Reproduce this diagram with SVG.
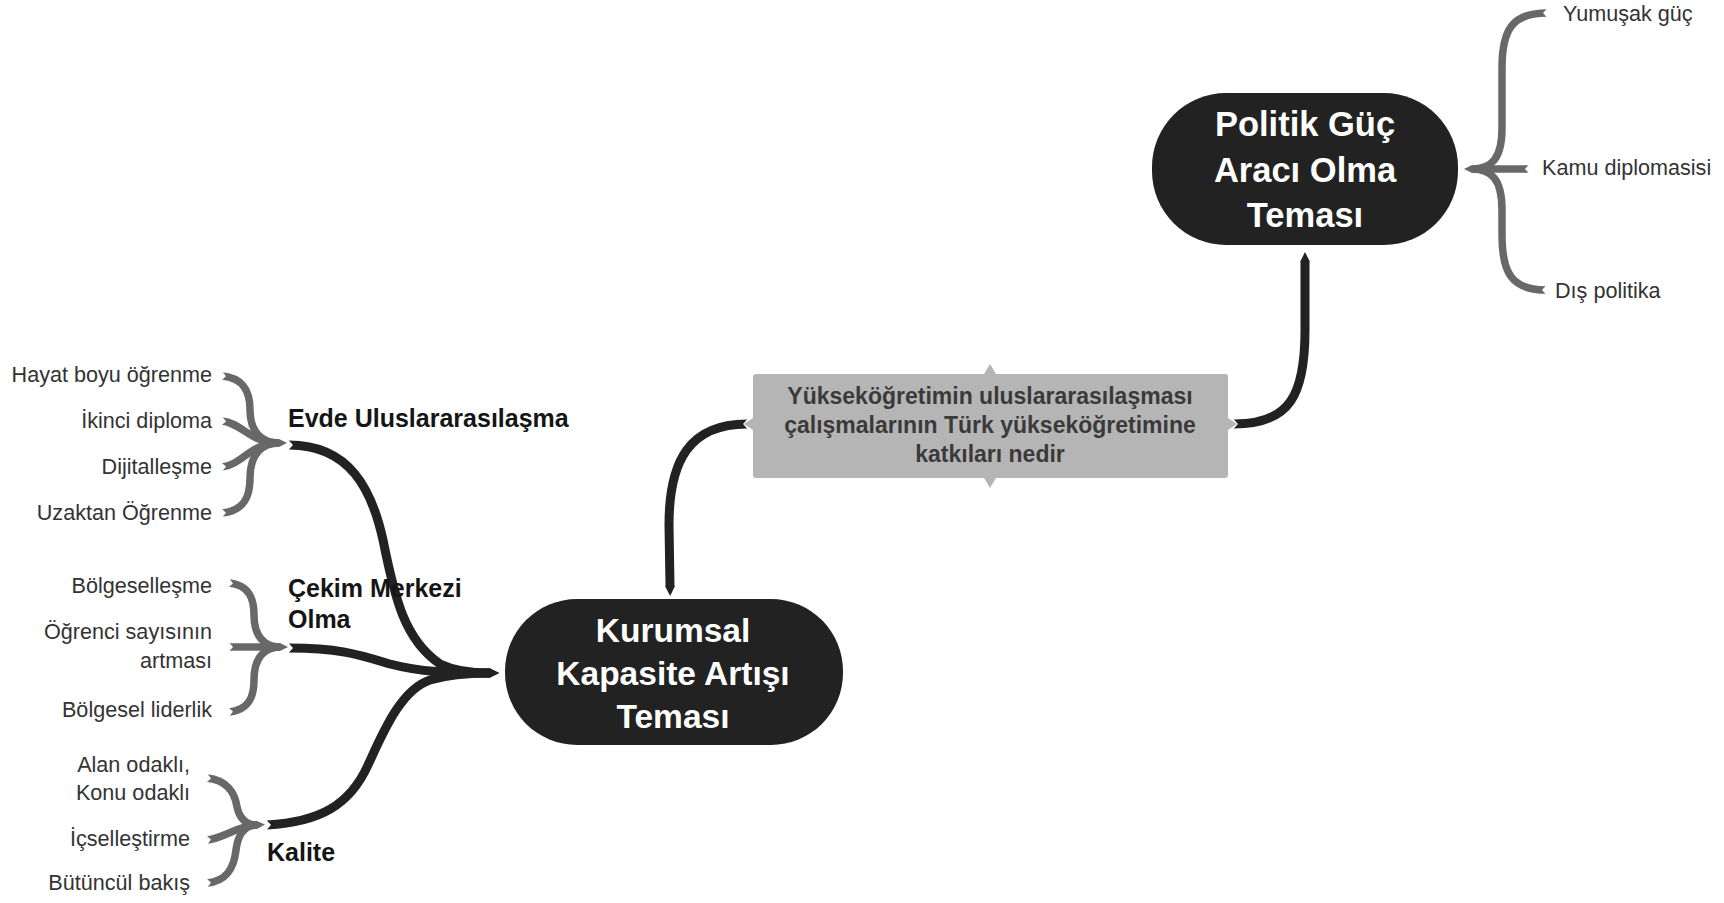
<svg xmlns="http://www.w3.org/2000/svg" width="1724" height="903" viewBox="0 0 1724 903">
<style>
.bg{fill:#ffffff}
.theme rect{fill:#222222}
.theme text{font-family:"Liberation Sans",Arial,sans-serif;font-weight:bold;fill:#ffffff;text-anchor:middle}
.center rect{fill:#b5b5b5}
.center polygon{fill:#b5b5b5}
.center text{font-family:"Liberation Sans",Arial,sans-serif;font-weight:bold;font-size:23px;fill:#3a3a3a;text-anchor:middle}
.sub text{font-family:"Liberation Sans",Arial,sans-serif;font-weight:bold;font-size:25px;fill:#151515}
.leaf text{font-family:"Liberation Sans",Arial,sans-serif;font-size:21.6px;fill:#333333}
.leaf-l text{text-anchor:end}
.main{fill:none;stroke:#222222;stroke-width:9;stroke-linecap:butt}
.br{fill:none;stroke:#686868;stroke-width:7.5;stroke-linecap:butt}
</style>
<defs>
<marker id="tipB" markerUnits="userSpaceOnUse" markerWidth="14" markerHeight="14" refX="0" refY="7" orient="auto" viewBox="0 0 14 14">
<path d="M0,2 L10,7 L0,12 z" fill="#222222"/>
</marker>
<marker id="tipG" markerUnits="userSpaceOnUse" markerWidth="14" markerHeight="14" refX="0" refY="7" orient="auto" viewBox="0 0 14 14">
<path d="M0,3 L8,7 L0,11 z" fill="#686868"/>
</marker>
<marker id="notch" markerUnits="userSpaceOnUse" markerWidth="14" markerHeight="14" refX="1" refY="7" orient="auto" viewBox="0 0 14 14">
<path d="M0,1.5 L5,7 L0,12.5 z" fill="#ffffff"/>
</marker>
</defs>
<rect class="bg" x="0" y="0" width="1724" height="903"/>

<g id="connectors">
<!-- center to themes -->
<path class="main" marker-start="url(#notch)" marker-end="url(#tipB)" d="M747 424 C690 424 669 460 669 525 L670 586"/>
<path class="main" marker-start="url(#notch)" marker-end="url(#tipB)" d="M1234 424 C1290 424 1305 395 1305 330 L1305 262"/>
<!-- subthemes to Kurumsal -->
<path class="main" marker-start="url(#notch)" marker-end="url(#tipB)" d="M289 445 C350 445 372 490 383 540 C395 600 405 640 440 664 C455 671 470 673 489 673"/>
<path class="main" marker-start="url(#notch)" marker-end="url(#tipB)" d="M289 648 C340 648 360 655 390 664 C420 672 450 673 489 673"/>
<path class="main" marker-start="url(#notch)" marker-end="url(#tipB)" d="M267 825 C320 822 350 805 368 765 C382 735 400 690 430 680 C450 674 468 673 489 673"/>
<!-- Evde bracket -->
<path class="br" marker-start="url(#notch)" d="M222 376 C244 378 250 392 250 410 C250 432 262 443 279 443"/>
<path class="br" marker-start="url(#notch)" d="M222 421 C242 423 250 443 279 443"/>
<path class="br" marker-start="url(#notch)" d="M222 467 C242 465 250 443 279 443"/>
<path class="br" marker-start="url(#notch)" marker-end="url(#tipG)" d="M222 513 C244 511 250 497 250 478 C250 454 262 443 279 443"/>
<!-- Cekim bracket -->
<path class="br" marker-start="url(#notch)" d="M229 583 C249 585 254 598 254 615 C254 637 265 647 280 647"/>
<path class="br" marker-start="url(#notch)" marker-end="url(#tipG)" d="M229 647 L280 647"/>
<path class="br" marker-start="url(#notch)" d="M229 712 C249 710 254 697 254 680 C254 657 265 647 280 647"/>
<!-- Kalite bracket -->
<path class="br" marker-start="url(#notch)" d="M207 778 C227 780 235 793 237 807 C240 820 247 825 257 825"/>
<path class="br" marker-start="url(#notch)" marker-end="url(#tipG)" d="M207 840 C225 838 236 826 257 825"/>
<path class="br" marker-start="url(#notch)" d="M207 883 C227 881 234 868 236 850 C238 833 246 825 257 825"/>
<!-- Politik bracket -->
<path class="br" marker-start="url(#notch)" d="M1547 13 C1512 13 1502 30 1502 68 L1502 128 C1502 158 1492 169 1472 169"/>
<path class="br" marker-start="url(#notch)" marker-end="url(#tipG)" d="M1529 169 L1472 169"/>
<path class="br" marker-start="url(#notch)" d="M1546 290 C1511 290 1502 272 1502 235 L1502 210 C1502 180 1492 169 1472 169"/>
</g>

<g id="node-center" class="center">
<rect x="753" y="374" width="475" height="104" rx="3"/>
<polygon points="984,374 990,364 996,374"/>
<polygon points="984,478 990,488 996,478"/>
<polygon points="753,418 744,424 753,430"/>
<polygon points="1228,418 1237,424 1228,430"/>
<text x="990" y="404">Yükseköğretimin uluslararasılaşması</text>
<text x="990" y="433">çalışmalarının Türk yükseköğretimine</text>
<text x="990" y="462">katkıları nedir</text>
</g>

<g id="node-politik" class="theme">
<rect x="1152" y="93" width="306" height="152" rx="74" ry="74"/>
<text x="1305" y="136" font-size="34.5">Politik Güç</text>
<text x="1305" y="182" font-size="34.5">Aracı Olma</text>
<text x="1305" y="227" font-size="34.5">Teması</text>
</g>

<g id="node-kurumsal" class="theme">
<rect x="505" y="599" width="338" height="146" rx="72" ry="72"/>
<text x="673" y="642" font-size="33.5">Kurumsal</text>
<text x="673" y="685" font-size="33.5">Kapasite Artışı</text>
<text x="673" y="728" font-size="33.5">Teması</text>
</g>

<g id="node-evde" class="sub"><text x="288" y="427">Evde Uluslararasılaşma</text></g>
<g id="node-cekim" class="sub"><text x="288" y="597">Çekim Merkezi</text><text x="288" y="628">Olma</text></g>
<g id="node-kalite" class="sub"><text x="267" y="861">Kalite</text></g>

<g id="leaf-hayat" class="leaf leaf-l"><text x="212" y="382">Hayat boyu öğrenme</text></g>
<g id="leaf-ikinci" class="leaf leaf-l"><text x="212" y="428">İkinci diploma</text></g>
<g id="leaf-dijital" class="leaf leaf-l"><text x="212" y="474">Dijitalleşme</text></g>
<g id="leaf-uzaktan" class="leaf leaf-l"><text x="212" y="520">Uzaktan Öğrenme</text></g>
<g id="leaf-bolgesel" class="leaf leaf-l"><text x="212" y="593">Bölgeselleşme</text></g>
<g id="leaf-ogrenci" class="leaf leaf-l"><text x="212" y="639">Öğrenci sayısının</text><text x="212" y="668">artması</text></g>
<g id="leaf-lider" class="leaf leaf-l"><text x="212" y="717">Bölgesel liderlik</text></g>
<g id="leaf-alan" class="leaf leaf-l"><text x="190" y="772">Alan odaklı,</text><text x="190" y="800">Konu odaklı</text></g>
<g id="leaf-icsel" class="leaf leaf-l"><text x="190" y="846">İçselleştirme</text></g>
<g id="leaf-butuncul" class="leaf leaf-l"><text x="190" y="890">Bütüncül bakış</text></g>
<g id="leaf-yumusak" class="leaf"><text x="1563" y="21">Yumuşak güç</text></g>
<g id="leaf-kamu" class="leaf"><text x="1542" y="175">Kamu diplomasisi</text></g>
<g id="leaf-dis" class="leaf"><text x="1555" y="298">Dış politika</text></g>
</svg>
